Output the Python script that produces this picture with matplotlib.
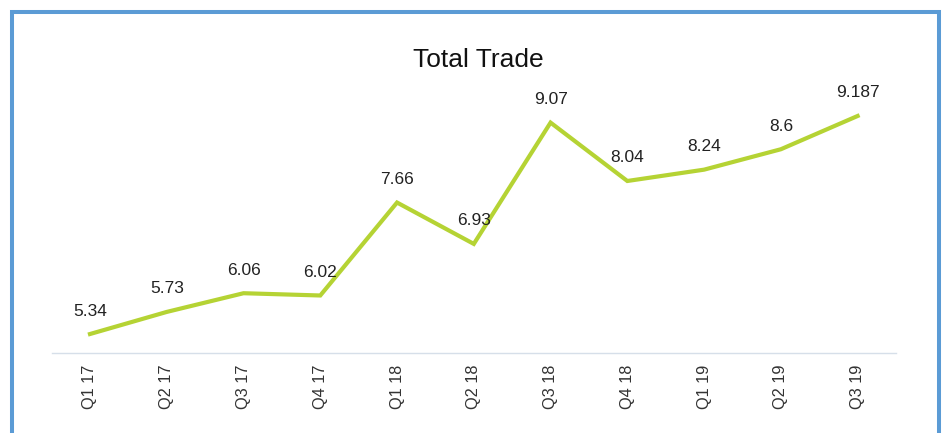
import matplotlib.pyplot as plt
from matplotlib.patches import Rectangle

# quarterly total trade values
quarters = ['Q1 17', 'Q2 17', 'Q3 17', 'Q4 17', 'Q1 18', 'Q2 18',
            'Q3 18', 'Q4 18', 'Q1 19', 'Q2 19', 'Q3 19']
total_trade = [5.34, 5.73, 6.06, 6.02, 7.66, 6.93, 9.07, 8.04, 8.24, 8.6, 9.187]
value_labels = ['5.34', '5.73', '6.06', '6.02', '7.66', '6.93',
                '9.07', '8.04', '8.24', '8.6', '9.187']

plt.rcParams['font.family'] = ['Liberation Sans', 'DejaVu Sans']

W, H = 947, 433
fig = plt.figure(figsize=(W / 100, H / 100), dpi=100)
fig.patch.set_facecolor('white')

ax = fig.add_axes([51.6 / W, 1 - 353.3 / H, (896 - 51.6) / W, (353.3 - 69.9) / H])
x = list(range(len(quarters)))
ax.plot(x, total_trade, color='#b5d334', linewidth=3, solid_joinstyle='miter')

# data labels above the points
for xi, v, lab in zip(x, total_trade, value_labels):
    ax.annotate(lab, (xi, v), xytext=(0, 23), textcoords='offset pixels',
                ha='center', va='center', fontsize=12.5, color='#222222')

ax.set_xlim(-0.5, len(quarters) - 0.5)
ax.set_ylim(5, 10)
ax.set_xticks(x)
ax.set_xticklabels(quarters, rotation=90, fontsize=11.8, color='#333333')
ax.tick_params(axis='x', length=0, pad=8)
ax.set_yticks([])
for side in ['left', 'right', 'top']:
    ax.spines[side].set_visible(False)
ax.spines['bottom'].set_color('#d6dfe9')
ax.spines['bottom'].set_linewidth(1)

fig.text(478 / W, 1 - 67 / H, 'Total Trade', ha='center', va='baseline',
         fontsize=19, color='#111111')

# blue frame around the chart
frame = Rectangle((12 / W, -0.05), (938.5 - 12) / W, 1 - 12 / H + 0.05,
                  transform=fig.transFigure, fill=False,
                  edgecolor='#5b9bd5', linewidth=2.9)
fig.patches.append(frame)

fig.savefig('out.png', dpi=100)
